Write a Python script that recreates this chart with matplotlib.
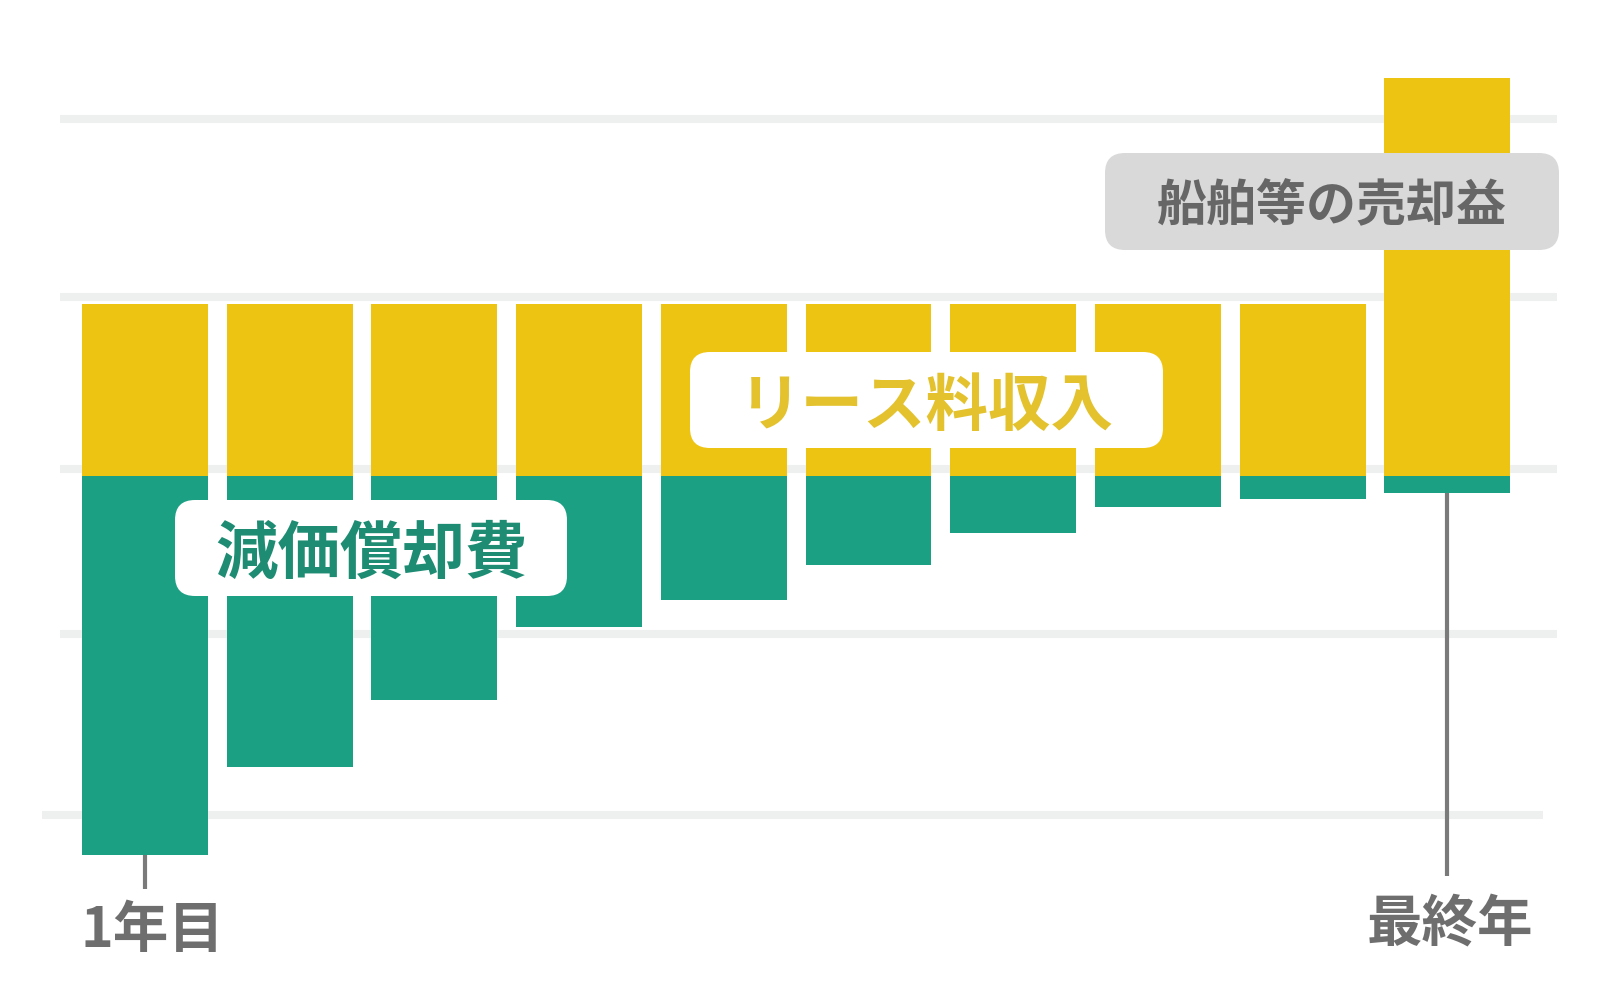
import numpy as np
import matplotlib
matplotlib.use("Agg")
import matplotlib.pyplot as plt
from matplotlib.patches import FancyBboxPatch

plt.rcParams["font.family"] = ["Noto Sans CJK JP", "DejaVu Sans"]

# =========================================================
# DATA (arbitrary units)
# =========================================================
years = np.arange(10)                      # 1年目 ... 最終年
lease_income = [0.99] * 10                 # リース料収入
sale_gain = [0, 0, 0, 0, 0, 0, 0, 0, 0, 1.30]  # 船舶等の売却益 (final year only)
depreciation = [2.18, 1.67, 1.29, 0.87, 0.71, 0.51, 0.33, 0.18, 0.13, 0.10]  # 減価償却費
grid_levels = [2.05, 1.03, 0.04, -0.91, -1.95]

tick_labels = {0: "1年目", 9: "最終年"}

YELLOW = "#EEC413"
GREEN = "#1BA083"
GRID = "#EEF0EF"
GREY_TEXT = "#6E6E6E"

# =========================================================
# LAYOUT (pixel based)
# =========================================================
W, H = 1617, 992
X0_PX, STEP_PX = 145, 144.7
ZERO_PX, UNIT_PX = 476, 174


def to_y(py):
    return (ZERO_PX - py) / UNIT_PX


fig = plt.figure(figsize=(W / 100, H / 100), dpi=100)
ax = fig.add_axes([0, 0, 1, 1])
ax.set_xlim(-X0_PX / STEP_PX, (W - X0_PX) / STEP_PX)
ax.set_ylim(to_y(H), to_y(0))
ax.axis("off")

# gridlines
for i, g in enumerate(grid_levels):
    x_left, x_right = (-0.59, 9.76) if i < 4 else (-0.71, 9.66)
    ax.hlines(g, x_left, x_right, color=GRID, lw=5.8, zorder=0, capstyle="butt")

# bars
bar_w = 0.87
ax.bar(years, lease_income, width=bar_w, color=YELLOW, zorder=2)
ax.bar(years, sale_gain, width=bar_w, bottom=lease_income, color=YELLOW, zorder=2)
ax.bar(years, -np.array(depreciation), width=bar_w, color=GREEN, zorder=2)

# tick marks below first / last bar
ax.vlines(0, -depreciation[0], to_y(889), color="#7A7A7A", lw=3, zorder=1)
ax.vlines(9, -depreciation[9], to_y(876), color="#7A7A7A", lw=3, zorder=1)

# =========================================================
# ANNOTATIONS (overlay in pixel coordinates)
# =========================================================
ov = fig.add_axes([0, 0, 1, 1])
ov.set_xlim(0, W)
ov.set_ylim(H, 0)
ov.axis("off")
ov.patch.set_alpha(0)


def label_box(x0, y0, x1, y1, face, text, color, size):
    box = FancyBboxPatch((x0, y0), x1 - x0, y1 - y0,
                         boxstyle="round,pad=0,rounding_size=20",
                         facecolor=face, edgecolor="none")
    ov.add_patch(box)
    ov.text((x0 + x1) / 2, (y0 + y1) / 2, text, color=color, fontsize=size,
            fontweight="bold", ha="center", va="center_baseline")


label_box(690, 352, 1163, 448, "white", "リース料収入", "#E3C22E", 45)
label_box(175, 500, 567, 596, "white", "減価償却費", "#1E8C73", 45)
label_box(1105, 153, 1559, 250, "#D9D9D9", "船舶等の売却益", "#666666", 36)

ov.text(152, 925, tick_labels[0], color=GREY_TEXT, fontsize=40,
        fontweight="bold", ha="center", va="center_baseline")
ov.text(1450, 918, tick_labels[9], color=GREY_TEXT, fontsize=40,
        fontweight="bold", ha="center", va="center_baseline")

fig.savefig("out.png", dpi=100, facecolor="white")
